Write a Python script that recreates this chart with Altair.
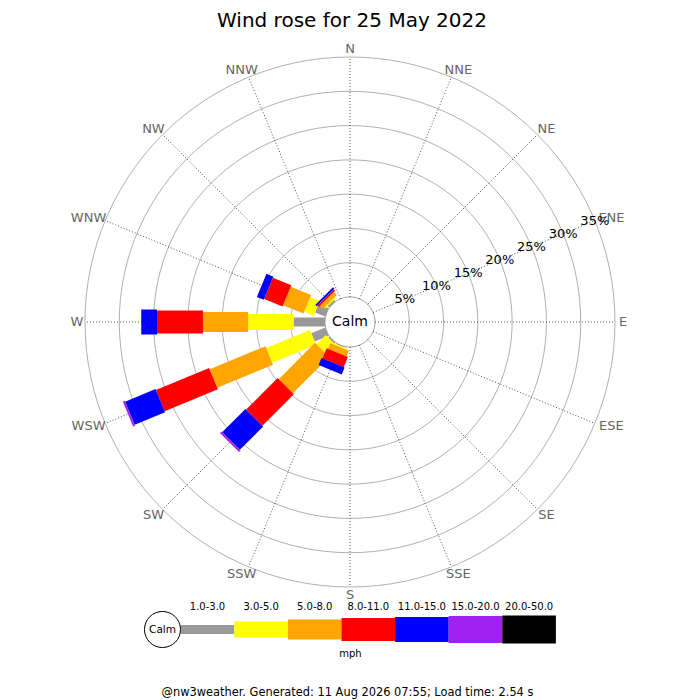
import altair as alt
import pandas as pd

# ---------------- data ----------------
directions = ["N", "NNE", "NE", "ENE", "E", "ESE", "SE", "SSE",
              "S", "SSW", "SW", "WSW", "W", "WNW", "NW", "NNW"]
ranges = ["1.0-3.0", "3.0-5.0", "5.0-8.0", "8.0-11.0",
          "11.0-15.0", "15.0-20.0", "20.0-50.0"]

# percentage of observations per direction (order of `directions`) for each speed band
band_1_3   = [0, 0, 0, 0, 0, 0, 0, 0, 0, 0.1, 0.2, 2.2, 4.6, 1.6, 0.3, 0]
band_3_5   = [0, 0, 0, 0, 0, 0, 0, 0, 0, 0.2, 1.9, 6.9, 6.6, 1.5, 0.2, 0]
band_5_8   = [0, 0, 0, 0, 0, 0, 0, 0, 0, 0.9, 7.5, 8.8, 6.6, 3.2, 0.6, 0]
band_8_11  = [0, 0, 0, 0, 0, 0, 0, 0, 0, 1.6, 6.5, 8.4, 6.7, 2.9, 0.3, 0]
band_11_15 = [0, 0, 0, 0, 0, 0, 0, 0, 0, 1.1, 4.8, 4.8, 2.3, 1.1, 0.3, 0]
band_15_20 = [0, 0, 0, 0, 0, 0, 0, 0, 0, 0, 0.3, 0.3, 0, 0, 0, 0]
band_20_50 = [0, 0, 0, 0, 0, 0, 0, 0, 0, 0, 0, 0, 0, 0, 0, 0]
bands = [band_1_3, band_3_5, band_5_8, band_8_11, band_11_15, band_15_20, band_20_50]

ring_pcts = [5, 10, 15, 20, 25, 30, 35]

title_text = "Wind rose for 25 May 2022"
footer_text = "@nw3weather. Generated: 11 Aug 2026 07:55; Load time: 2.54 s"
units_text = "mph"
calm_text = "Calm"

# ---------------- styles / geometry ----------------
range_colors = ["#999999", "#ffff00", "#ffa500", "#ff0000", "#0000ff", "#a020f0", "#000000"]
range_widths = [9, 16, 20, 23, 25, 27, 28]
FONT = "DejaVu Sans"
CALM_R = 25
PX_PER_PCT = 240 / 35
OUTER_R = CALM_R + 35 * PX_PER_PCT
LABEL_R = 268
LEG_Y = -307.5
LEG_X0 = -169.3
LEG_W = 53.6

W, H = 684, 692
XD = [-342, 342]
YD = [-378, 314]
xs = alt.Scale(domain=XD, nice=False, zero=False)
ys = alt.Scale(domain=YD, nice=False, zero=False)


def X(f):
    return alt.X(f"{f}:Q", scale=xs, axis=None)


def Y(f):
    return alt.Y(f"{f}:Q", scale=ys, axis=None)


# ---------------- tables ----------------
bar_rows = []
for bi, vals in enumerate(bands):
    for di, v in enumerate(vals):
        bar_rows.append({"dir_i": di, "band_i": bi, "band": ranges[bi],
                         "pct": v, "w": range_widths[bi]})
bars_df = pd.DataFrame(bar_rows)

ring_rows = []
for rp in [0] + ring_pcts:
    for a in range(0, 361, 3):
        ring_rows.append({"ring": rp, "ang": a})
rings_df = pd.DataFrame(ring_rows)

dirs_df = pd.DataFrame({"dir": directions, "dir_i": list(range(len(directions)))})
pct_lab_df = pd.DataFrame({"ring": ring_pcts, "label": [f"{p}%" for p in ring_pcts]})
leg_df = pd.DataFrame({"band_i": list(range(len(ranges))), "band": ranges, "w": range_widths})

# ---------------- layers ----------------
rings = alt.Chart(rings_df).transform_calculate(
    r=f"{CALM_R} + datum.ring * {PX_PER_PCT}",
    x="datum.r * sin(datum.ang * PI / 180)",
    y="datum.r * cos(datum.ang * PI / 180)",
).mark_line(strokeWidth=1).encode(
    x=X("x"), y=Y("y"), detail="ring:N", order="ang:Q",
    color=alt.condition("datum.ring == 0", alt.value("#999999"), alt.value("#b0b0b0")),
)

spokes = alt.Chart(dirs_df).transform_calculate(
    th="datum.dir_i * 22.5 * PI / 180",
    x=f"{CALM_R} * sin(datum.th)", y=f"{CALM_R} * cos(datum.th)",
    x2=f"{OUTER_R} * sin(datum.th)", y2=f"{OUTER_R} * cos(datum.th)",
).mark_rule(color="#555555", strokeWidth=1, strokeDash=[1, 2]).encode(
    x=X("x"), y=Y("y"), x2="x2:Q", y2="y2:Q"
)

bars = alt.Chart(bars_df).transform_window(
    cum="sum(pct)", groupby=["dir_i"], sort=[alt.SortField("band_i")], frame=[None, 0]
).transform_filter("datum.pct > 0").transform_calculate(
    th="datum.dir_i * 22.5 * PI / 180",
    r0=f"{CALM_R} + (datum.cum - datum.pct) * {PX_PER_PCT}",
    r1=f"{CALM_R} + datum.cum * {PX_PER_PCT}",
    x="datum.r0 * sin(datum.th)", y="datum.r0 * cos(datum.th)",
    x2="datum.r1 * sin(datum.th)", y2="datum.r1 * cos(datum.th)",
).mark_rule(strokeCap="butt").encode(
    x=X("x"), y=Y("y"), x2="x2:Q", y2="y2:Q",
    color=alt.Color("band:N", scale=alt.Scale(domain=ranges, range=range_colors), legend=None),
    strokeWidth=alt.StrokeWidth("w:Q", scale=None),
)

compass = alt.Chart(dirs_df).transform_calculate(
    th="datum.dir_i * 22.5 * PI / 180",
    x=f"({LABEL_R} + 5 * length(datum.dir)) * sin(datum.th)",
    y=f"({LABEL_R} + 5) * cos(datum.th)",
).mark_text(font=FONT, fontSize=13, color="#666666", align="center", baseline="middle").encode(
    x=X("x"), y=Y("y"), text="dir:N"
)

pct_labels = alt.Chart(pct_lab_df).transform_calculate(
    r=f"{CALM_R} + datum.ring * {PX_PER_PCT}",
    x="datum.r * sin(67.5 * PI / 180)", y="datum.r * cos(67.5 * PI / 180)",
).mark_text(font=FONT, fontSize=13, color="#000000", align="center", baseline="middle").encode(
    x=X("x"), y=Y("y"), text="label:N"
)

calm = alt.Chart(pd.DataFrame({"t": [calm_text], "x": [0], "y": [0]})).mark_text(
    font=FONT, fontSize=14, color="#000000", align="center", baseline="middle"
).encode(x=X("x"), y=Y("y"), text="t:N")

title = alt.Chart(pd.DataFrame({"t": [title_text], "x": [2], "y": [295.5]})).mark_text(
    font=FONT, fontSize=20, color="#000000", align="center", baseline="alphabetic"
).encode(x=X("x"), y=Y("y"), text="t:N")

footer = alt.Chart(pd.DataFrame({"t": [footer_text], "x": [-2.5], "y": [-371]})).mark_text(
    font=FONT, fontSize=11.4, color="#000000", align="center", baseline="middle"
).encode(x=X("x"), y=Y("y"), text="t:N")

# legend
leg_bars = alt.Chart(leg_df).transform_calculate(
    x=f"{LEG_X0} + datum.band_i * {LEG_W}", x2=f"{LEG_X0} + (datum.band_i + 1) * {LEG_W}",
    y=f"{LEG_Y}",
).mark_rule(strokeCap="butt").encode(
    x=X("x"), y=Y("y"), x2="x2:Q", y2="y:Q",
    color=alt.Color("band:N", scale=alt.Scale(domain=ranges, range=range_colors), legend=None),
    strokeWidth=alt.StrokeWidth("w:Q", scale=None),
)
leg_labels = alt.Chart(leg_df).transform_calculate(
    x=f"{LEG_X0} + (datum.band_i + 0.5) * {LEG_W}", y=f"{LEG_Y} + 22.5",
).mark_text(font=FONT, fontSize=10, color="#000000", align="center", baseline="middle").encode(
    x=X("x"), y=Y("y"), text="band:N"
)
leg_circle = alt.Chart(pd.DataFrame({"x": [-187.5], "y": [LEG_Y]})).mark_point(
    shape="circle", size=1300, filled=True, fill="#ffffff", stroke="#000000", strokeWidth=1, opacity=1
).encode(x=X("x"), y=Y("y"))
leg_calm = alt.Chart(pd.DataFrame({"t": [calm_text], "x": [-187.5], "y": [LEG_Y]})).mark_text(
    font=FONT, fontSize=10.5, color="#000000", align="center", baseline="middle"
).encode(x=X("x"), y=Y("y"), text="t:N")
leg_units = alt.Chart(pd.DataFrame({"t": [units_text], "x": [0.5], "y": [LEG_Y - 24.5]})).mark_text(
    font=FONT, fontSize=10, color="#000000", align="center", baseline="middle"
).encode(x=X("x"), y=Y("y"), text="t:N")

chart = alt.layer(
    rings, spokes, bars, compass, pct_labels, calm, title, footer,
    leg_bars, leg_circle, leg_calm, leg_labels, leg_units,
).properties(
    width=W, height=H, padding=0, autosize=alt.AutoSizeParams(type="none"),
    background="#ffffff",
).configure_view(stroke=None)

chart.save("out.html", embed_options={"renderer": "svg", "actions": False})
